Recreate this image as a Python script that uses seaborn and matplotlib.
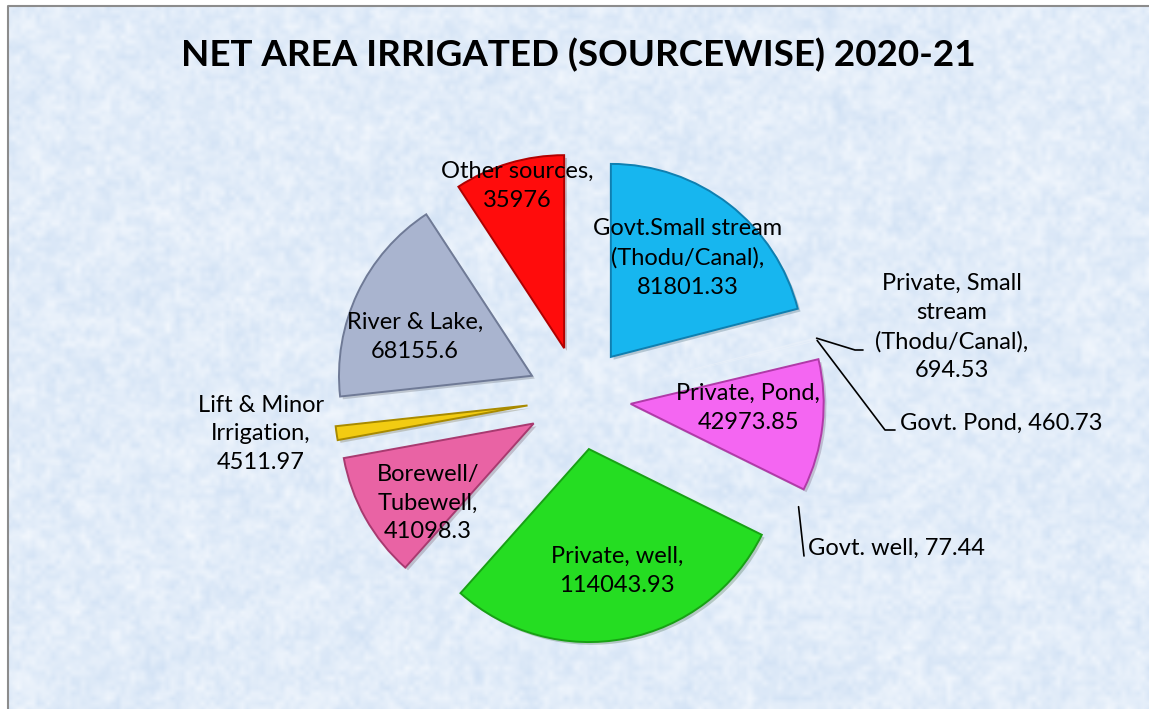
import numpy as np
import matplotlib
matplotlib.use("Agg")
import matplotlib.pyplot as plt
import matplotlib.patheffects as pe
import seaborn as sns

# ---- data -------------------------------------------------------------
sources = [
    "Govt.Small stream\n(Thodu/Canal)",
    "Private, Small\nstream\n(Thodu/Canal)",
    "Govt. Pond",
    "Private, Pond",
    "Govt. well",
    "Private, well",
    "Borewell/\nTubewell",
    "Lift & Minor\nIrrigation",
    "River & Lake",
    "Other sources",
]
area = [81801.33, 694.53, 460.73, 42973.85, 77.44,
        114043.93, 41098.3, 4511.97, 68155.6, 35976]
# separator between the source name and its value in each label
label_sep = ["\n", "\n", " ", "\n", " ", "\n", "\n", "\n", "\n", "\n"]

slice_colors = ["#17b6ef", "#eef3fa", "#eef3fa", "#f466f2", "#eef3fa",
                "#25dd22", "#e963a4", "#f2cc12", "#a9b4cf", "#ff0c0c"]
edge_colors = ["#0f7fb0", None, None, "#b03aa8", None,
               "#18a015", "#a83a70", "#a88a00", "#6f7a96", "#b00000"]

# ---- layout (pixel units, y measured from the top) ---------------------
W, H = 1149, 709
PIE_CENTER = (579, 398)
PIE_RADIUS = 193
EXPLODE = 52
# label anchor, horizontal alignment
label_pos = [
    ((688, 258), "center"),
    ((952, 327), "center"),
    ((900, 423), "left"),
    ((748, 408), "center"),
    ((808, 548), "left"),
    ((617, 571), "center"),
    ((428, 503), "center"),
    ((261, 434), "center"),
    ((415, 337), "center"),
    ((517, 186), "center"),
]
# leader-line bends for the slices that are too thin to hold a label
leader_bends = {
    1: [(855, 350), (863, 350)],
    2: [(885, 430), (895, 430)],
    4: [(804, 556)],
}


def fmt(v):
    s = "%.2f" % v
    return s.rstrip("0").rstrip(".")


def upsample(a, h, w):
    xs = np.linspace(0, a.shape[1] - 1, w)
    ys = np.linspace(0, a.shape[0] - 1, h)
    tmp = np.array([np.interp(xs, np.arange(a.shape[1]), row) for row in a])
    return np.array([np.interp(ys, np.arange(a.shape[0]), col) for col in tmp.T]).T


sns.set_theme(style="white")
plt.rcParams["font.family"] = ["Lato", "DejaVu Sans"]

fig = plt.figure(figsize=(W / 100, H / 100), dpi=100)
fig.patch.set_facecolor("white")
ax = fig.add_axes([0, 0, 1, 1])

# frosted light-blue backdrop
rng = np.random.default_rng(11)
th, tw = H - 6, W - 8
t = (0.20 * upsample(rng.random((30, 50)), th, tw)
     + 0.40 * upsample(rng.random((70, 115)), th, tw)
     + 0.40 * upsample(rng.random((140, 230)), th, tw))
t = (t - t.min()) / (t.max() - t.min())
lo = np.array([210, 226, 245]) / 255
hi = np.array([242, 247, 253]) / 255
tex = lo + t[..., None] * (hi - lo)
ax.imshow(tex, extent=(8, W, 0, H - 6), zorder=0, interpolation="bilinear")

pal = sns.color_palette(slice_colors)
cx, cy = PIE_CENTER[0], H - PIE_CENTER[1]
wedges, _ = ax.pie(
    area,
    explode=[EXPLODE] * len(area),
    radius=PIE_RADIUS,
    center=(cx, cy),
    startangle=90,
    counterclock=False,
    colors=pal,
    wedgeprops=dict(linewidth=1.4),
)
for w, ec in zip(wedges, edge_colors):
    w.set_zorder(2)
    if ec is None:
        # hairline slices: only a faint sheen is visible
        w.set_edgecolor("none")
        w.set_alpha(0.5)
        continue
    w.set_edgecolor(ec)
    w.set_path_effects([pe.SimplePatchShadow(offset=(2, -2), alpha=0.22),
                        pe.Normal()])

for i, (name, v, sep) in enumerate(zip(sources, area, label_sep)):
    (px, py), ha = label_pos[i]
    ax.text(px, H - py, f"{name},{sep}{fmt(v)}", ha=ha, va="center",
            fontsize=17, color="black", linespacing=1.45, zorder=4)
    if i in leader_bends:
        w = wedges[i]
        mid = np.deg2rad((w.theta1 + w.theta2) / 2)
        wx, wy = w.center
        sx = wx + w.r * np.cos(mid)
        sy = wy + w.r * np.sin(mid)
        xs = [sx] + [b[0] for b in leader_bends[i]]
        ys = [sy] + [H - b[1] for b in leader_bends[i]]
        ax.plot(xs, ys, color="black", lw=1.2, zorder=3)

# chart-area frame
ax.plot([8, 8, W], [0, H - 6, H - 6], color="#8c8c8c", lw=1.5, zorder=5)

fig.text(578 / W, 1 - 55 / H, "NET AREA IRRIGATED (SOURCEWISE) 2020-21",
         ha="center", va="center", fontsize=26.5, fontweight="bold", color="black")

ax.set_xlim(0, W)
ax.set_ylim(0, H)
ax.set_aspect("equal")
ax.axis("off")

fig.savefig("out.png", dpi=100)
